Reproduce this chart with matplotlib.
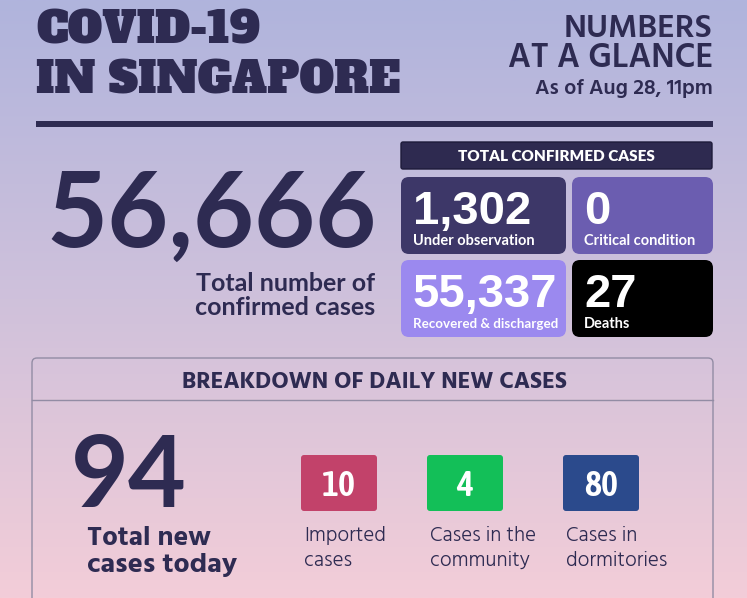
import matplotlib
matplotlib.use("Agg")
import numpy as np
import matplotlib.pyplot as plt
from matplotlib.patches import FancyBboxPatch
from matplotlib.colors import LinearSegmentedColormap

# --- data ---
title_lines = ["COVID-19", "IN SINGAPORE"]
subtitle_lines = ["NUMBERS", "AT A GLANCE"]
as_of = "As of Aug 28, 11pm"

total_confirmed = 56666
status_labels = ["Under observation", "Critical condition", "Recovered & discharged", "Deaths"]
status_values = [1302, 0, 55337, 27]
status_colors = ["#3d3768", "#6b5db0", "#9b89ef", "#000000"]

new_total = 94
new_labels = ["Imported\ncases", "Cases in the\ncommunity", "Cases in\ndormitories"]
new_values = [10, 4, 80]
new_colors = ["#c2426a", "#13bf58", "#2b4a8c"]

DARK = "#2e2b52"
SLAB = ['Alfa Slab One', 'DejaVu Serif']
HIND = ['Hind', 'Lato', 'DejaVu Sans']
LATO = ['Lato', 'DejaVu Sans']
ARIAL = ['Liberation Sans', 'DejaVu Sans']
NARROW = ['Asap Condensed', 'Liberation Sans', 'DejaVu Sans']

W, H = 747, 598
fig = plt.figure(figsize=(W / 100, H / 100), dpi=100)
ax = fig.add_axes([0, 0, 1, 1])
ax.set_xlim(0, W)
ax.set_ylim(H, 0)
ax.axis('off')

# background gradient
cmap = LinearSegmentedColormap.from_list("bg", ["#b0b4dd", "#cfc1db", "#f3cdd8"])
grad = np.linspace(0, 1, 256).reshape(-1, 1)
ax.imshow(grad, cmap=cmap, extent=[0, W, H, 0], aspect='auto', zorder=0)

# header
ax.text(36, 44, title_lines[0], family=SLAB, fontsize=31.5, color=DARK, va='baseline')
ax.text(36, 93, title_lines[1], family=SLAB, fontsize=31.5, color=DARK, va='baseline')
ax.text(713, 37, subtitle_lines[0], family=HIND, weight='semibold', fontsize=24,
        color=DARK, ha='right', va='baseline')
ax.text(713, 67, subtitle_lines[1], family=HIND, weight='semibold', fontsize=24.5,
        color=DARK, ha='right', va='baseline')
ax.text(713, 94, as_of, family=HIND, weight='semibold', fontsize=15.5,
        color=DARK, ha='right', va='baseline')
ax.add_patch(plt.Rectangle((36, 121), 677, 6, color=DARK, lw=0))

# total confirmed
ax.text(377, 247, f"{total_confirmed:,}", family=LATO, weight='bold', fontsize=76,
        color=DARK, ha='right', va='baseline')
ax.text(375, 291, "Total number of", family=LATO, weight='bold', fontsize=18,
        color=DARK, ha='right', va='baseline')
ax.text(375, 315, "confirmed cases", family=LATO, weight='bold', fontsize=18,
        color=DARK, ha='right', va='baseline')

ax.add_patch(FancyBboxPatch((401, 142), 311, 27, boxstyle="round,pad=0,rounding_size=2",
                            fc="#2e2a50", ec="#1e1b3a", lw=1))
ax.text(556, 156.5, "TOTAL CONFIRMED CASES", family=LATO, weight='heavy', fontsize=11,
        color="white", ha='center', va='center')

box_pos = [(401, 177, 165), (572, 177, 141), (401, 260, 165), (572, 260, 141)]
label_size = [10.5, 10.5, 9.6, 10.5]
for (x0, y0, w), val, lab, col, ls in zip(box_pos, status_values, status_labels,
                                          status_colors, label_size):
    ax.add_patch(FancyBboxPatch((x0, y0), w, 77, boxstyle="round,pad=0,rounding_size=8",
                                fc=col, ec='none'))
    ax.text(x0 + 12, y0 + 47, f"{val:,}", family=ARIAL, weight='bold', fontsize=34,
            color="white", va='baseline')
    ax.text(x0 + 12, y0 + 68, lab, family=LATO, weight='bold', fontsize=ls,
            color="white", va='baseline')

# breakdown panel
ax.add_patch(FancyBboxPatch((32, 358), 681, 300, boxstyle="round,pad=0,rounding_size=5",
                            fc='none', ec="#928ca4", lw=1))
ax.plot([32, 713], [400, 400], color="#928ca4", lw=1)
ax.text(374, 388, "BREAKDOWN OF DAILY NEW CASES", family=HIND, weight='bold',
        fontsize=17, color=DARK, ha='center', va='baseline')

ax.text(71, 507, str(new_total), family=LATO, weight='bold', fontsize=72, color=DARK,
        va='baseline')
ax.text(87, 545, "Total new", family=HIND, weight='bold', fontsize=20, color=DARK,
        va='baseline')
ax.text(87, 572, "cases today", family=HIND, weight='bold', fontsize=20.5, color=DARK,
        va='baseline')

for x0, val, lab, col in zip([301, 427, 563], new_values, new_labels, new_colors):
    ax.add_patch(FancyBboxPatch((x0, 455), 76, 56, boxstyle="round,pad=0,rounding_size=3",
                                fc=col, ec='none'))
    ax.text(x0 + 38, 496, str(val), family=NARROW, weight='semibold', fontsize=26,
            color="white", ha='center', va='baseline')
    first, second = lab.split("\n")
    ax.text(x0 + 3, 541, first, family=HIND, weight='light', fontsize=15,
            color=DARK, va='baseline')
    ax.text(x0 + 3, 566, second, family=HIND, weight='light', fontsize=15,
            color=DARK, va='baseline')

fig.savefig("out.png", dpi=100)
